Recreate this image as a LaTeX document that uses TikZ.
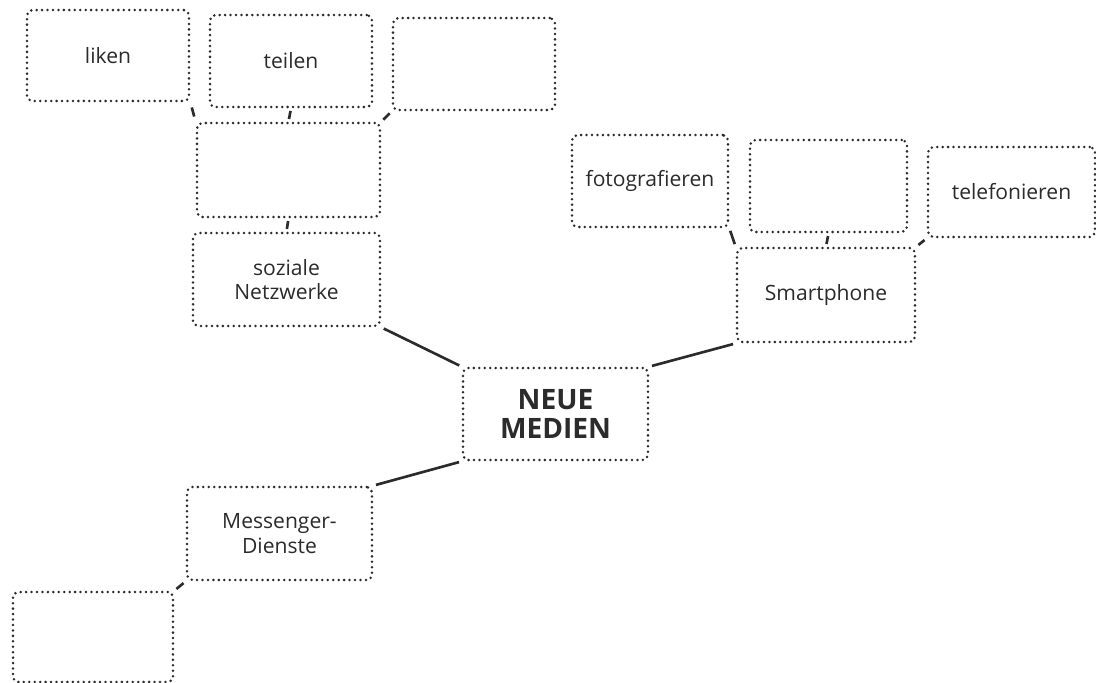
\documentclass[tikz,border=0pt]{standalone}
\usepackage{fontspec}
\setmainfont{Open Sans}
\definecolor{ink}{HTML}{2B2B2B}
\tikzset{
  feld/.style={draw=ink,line width=1.6pt,line cap=round,dash pattern=on 0pt off 3.1pt,
    rounded corners=3pt,inner sep=0pt,align=center,text=ink,
    font=\fontsize{12}{14}\selectfont},
  ast/.style={line width=1.5pt,ink,shorten >=1.5pt,shorten <=1.5pt}
}
\begin{document}
\begin{tikzpicture}[x=0.02cm,y=-0.02cm]
  \useasboundingbox (0,0) rectangle (1096,683);
  % Mitte
  \node[feld,minimum width=3.7cm,minimum height=1.84cm,
    font=\fontsize{16}{17}\selectfont\bfseries] (neue) at (555.5,414) {NEUE\\MEDIEN};
  % soziale Netzwerke
  \node[feld,minimum width=3.74cm,minimum height=1.86cm] (sozial) at (286.5,279.5) {soziale\\Netzwerke};
  \node[feld,minimum width=3.66cm,minimum height=1.88cm] (mitte) at (288.5,170) {};
  \node[feld,minimum width=3.24cm,minimum height=1.82cm] (liken) at (108,55.5) {liken};
  \node[feld,minimum width=3.24cm,minimum height=1.84cm] (teilen) at (291,61) {teilen};
  \node[feld,minimum width=3.24cm,minimum height=1.84cm] (leerA) at (474,64) {};
  % Smartphone
  \node[feld,minimum width=3.56cm,minimum height=1.88cm] (smart) at (826,295) {Smartphone};
  \node[feld,minimum width=3.12cm,minimum height=1.84cm] (foto) at (650,181) {fotografieren};
  \node[feld,minimum width=3.14cm,minimum height=1.84cm] (leerB) at (828.5,186) {};
  \node[feld,minimum width=3.34cm,minimum height=1.8cm] (tele) at (1011.5,192) {telefonieren};
  % Messenger
  \node[feld,minimum width=3.7cm,minimum height=1.86cm] (messenger) at (279.5,533.5) {Messenger-\\Dienste};
  \node[feld,minimum width=3.2cm,minimum height=1.8cm] (leerC) at (93,637) {};

  \draw[ast] (sozial.south east) -- (neue.north west);
  \draw[ast] (neue.north east) -- (smart.south west);
  \draw[ast] (neue.south west) -- (messenger.north east);
  \draw[ast] (messenger.south west) -- (leerC.north east);
  \draw[ast] (mitte.south) -- (sozial.north);
  \draw[ast,shorten >=3pt,shorten <=3pt] (liken.south east) -- (mitte.north west);
  \draw[ast] (teilen.south) -- (mitte.north);
  \draw[ast] (leerA.south west) -- (mitte.north east);
  \draw[ast] (foto.south east) -- (smart.north west);
  \draw[ast] (leerB.south) -- (smart.north);
  \draw[ast] (tele.south west) -- (smart.north east);
\end{tikzpicture}
\end{document}
